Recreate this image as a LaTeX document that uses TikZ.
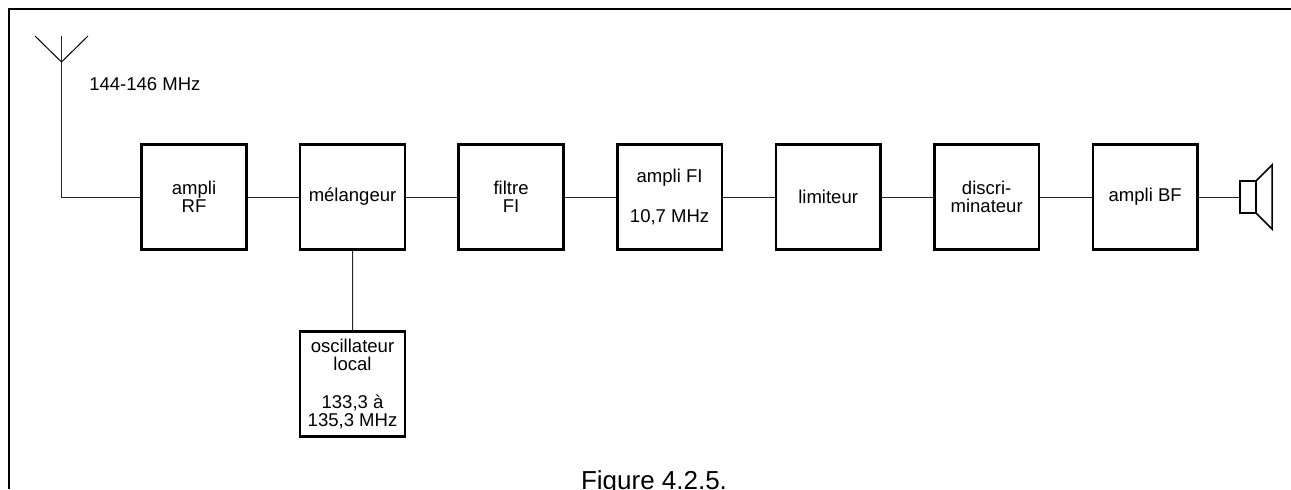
\documentclass[tikz,border=0pt]{standalone}
\usepackage{fontspec}
\setmainfont{Liberation Sans}
\usetikzlibrary{positioning}
\tikzset{
  blockbox/.style={draw,line width=1.9pt,minimum size=78.5pt,inner sep=0pt,align=center,font=\fontsize{13.9}{13.5}\selectfont},
  wire/.style={line width=0.75pt,draw=black!85},
  label/.style={inner sep=0pt,font=\fontsize{13.9}{15}\selectfont}
}
\begin{document}
\begin{tikzpicture}[x=0.75pt,y=-0.75pt]
\useasboundingbox (0,0) rectangle (1291,489);
% cadre
\draw[line width=1.5pt] (9,489)--(9,9)--(1291,9);
% chaine
\node[blockbox] (rf) at (194,197) {ampli\\RF};
\node[blockbox,right=38.5pt of rf] (mel) {mélangeur};
\node[blockbox,right=38.5pt of mel] (fil) {filtre\\FI};
\node[blockbox,right=38.5pt of fil] (fi) {ampli FI\\[17pt]10,7 MHz};
\node[blockbox,right=38.5pt of fi] (lim) {limiteur};
\node[blockbox,right=38.5pt of lim] (dis) {discri-\\minateur};
\node[blockbox,right=38.5pt of dis] (bf) {ampli BF};
\node[blockbox] (osc) at (352.5,384) {oscillateur\\local\\[15pt]133,3 à\\135,3 MHz};
\draw[wire] (rf)--(mel);
\draw[wire] (mel)--(fil);
\draw[wire] (fil)--(fi);
\draw[wire] (fi)--(lim);
\draw[wire] (lim)--(dis);
\draw[wire] (dis)--(bf);
\draw[wire] (mel)--(osc);
% antenne
\coordinate (base) at (61.5,62);
\coordinate (coin) at (61.5,197);
\draw[wire,line join=miter] (61.5,36)--(coin)--(rf);
\draw[line width=0.75pt] (35,36)--(base)--(88,36);
\node[label,anchor=west] (freq) at (89,84) {144-146 MHz};
% haut-parleur
\node[draw,line width=1.1pt,minimum width=12pt,minimum height=24pt,inner sep=0pt] (hp) at (1248,197) {};
\draw[wire] (bf)--(hp);
\draw[line width=1.1pt,line join=miter] (hp.north east)--(1272,165)--(1272,229)--(hp.south east);
\node[font=\fontsize{19.5}{19.5}\selectfont,inner sep=0pt,anchor=base] (fig) at (654,489) {Figure 4.2.5.};
\end{tikzpicture}
\end{document}
